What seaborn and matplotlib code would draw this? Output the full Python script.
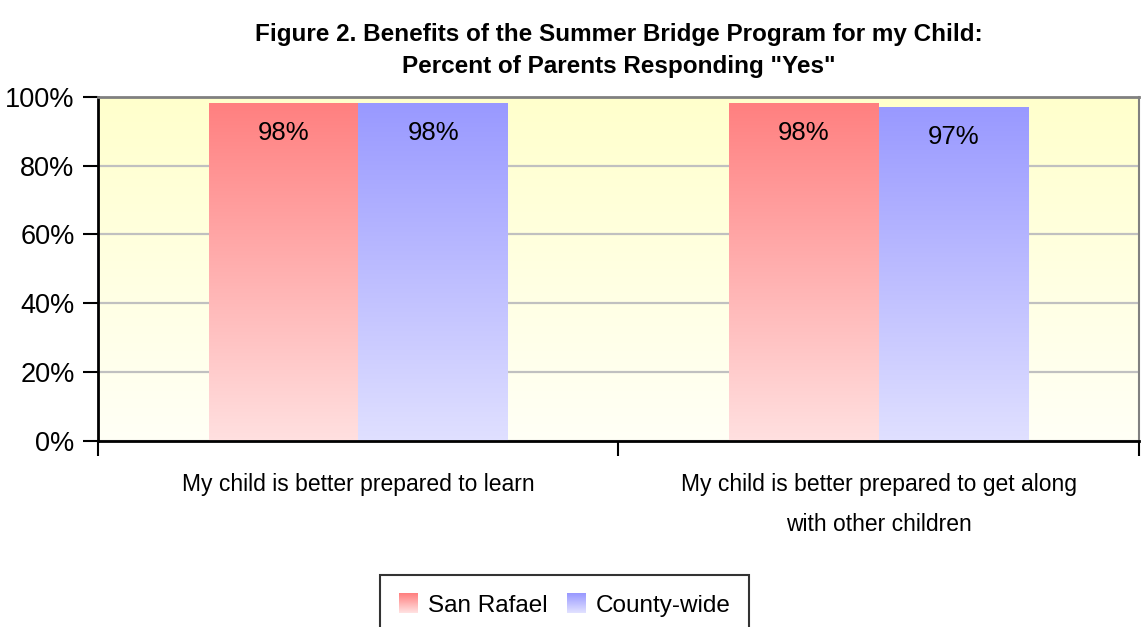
import numpy as np
import pandas as pd
import matplotlib.pyplot as plt
import seaborn as sns
from matplotlib.colors import LinearSegmentedColormap, to_rgb
from matplotlib.patches import Rectangle
from matplotlib.legend_handler import HandlerBase


categories = ["My child is better prepared to learn",
              "My child is better prepared to get along\nwith other children"]
groups = ["San Rafael", "County-wide"]
san_rafael = [98, 98]
county_wide = [98, 97]
yticks = [0, 20, 40, 60, 80, 100]

top_colors = {"San Rafael": "#FF8080", "County-wide": "#9999FF"}
bottom_colors = {"San Rafael": "#FFE0E0", "County-wide": "#E0E0FF"}

df = pd.DataFrame({
    "category": categories * 2,
    "group": [groups[0]] * 2 + [groups[1]] * 2,
    "value": san_rafael + county_wide,
})

sns.set_style("white")
plt.rcParams['font.family'] = ['Liberation Sans', 'DejaVu Sans']
plt.rcParams['text.color'] = 'black'
plt.rcParams['xtick.color'] = 'black'
plt.rcParams['ytick.color'] = 'black'
plt.rcParams['axes.labelcolor'] = 'black'

fig = plt.figure(figsize=(11.41, 6.27), dpi=100)
ax = fig.add_axes([0.086, 0.297, 0.912, 0.5485])

sns.barplot(data=df, x="category", y="value", hue="group", hue_order=groups,
            palette=top_colors, width=0.575, gap=0, saturation=1,
            legend=False, ax=ax)

# gradient fill for bars
grad = np.linspace(0, 1, 256).reshape(-1, 1)
for container, g in zip(ax.containers, groups):
    cmap = LinearSegmentedColormap.from_list(g, [bottom_colors[g], top_colors[g]])
    for bar in container:
        x0, y0 = bar.get_x(), bar.get_y()
        w, h = bar.get_width(), bar.get_height()
        ax.imshow(grad, extent=[x0, x0 + w, y0, y0 + h], origin="lower",
                  aspect="auto", cmap=cmap, zorder=2)
        bar.set_facecolor("none")
        bar.set_edgecolor("none")
    ax.bar_label(container, labels=[f"{v:.0f}%" for v in container.datavalues],
                 padding=-30, fontsize=18.5, color="black", zorder=4)

# yellow background gradient
bg = LinearSegmentedColormap.from_list("bg", ["#FFFFF6", "#FFFFCC"])
ax.imshow(grad, extent=[0, 1, 0, 1], origin="lower", aspect="auto", cmap=bg,
          transform=ax.transAxes, zorder=-1)

ax.set_xlim(-0.5, 1.5)
ax.set_ylim(0, 100)
ax.set_yticks(yticks)
ax.set_yticklabels([f"{v}%" for v in yticks])
ax.yaxis.grid(True, color="#C0C0C0", lw=1.6)
ax.set_axisbelow(True)

ax.set_xticks([-0.5, 0.5, 1.5])
ax.set_xticklabels([])
ax.set_xticks([0, 1], minor=True)
ax.set_xticklabels(categories, minor=True, linespacing=1.95)
ax.tick_params(axis="x", which="major", length=11, width=1.5, direction="out",
               color="black", bottom=True)
ax.tick_params(axis="x", which="minor", length=0, pad=23, labelsize=16.5)
ax.tick_params(axis="y", length=11, width=1.5, direction="out", color="black",
               left=True, pad=6, labelsize=19.5)
ax.set_xlabel("")
ax.set_ylabel("")

ax.spines["left"].set_color("black")
ax.spines["left"].set_linewidth(2)
ax.spines["bottom"].set_color("black")
ax.spines["bottom"].set_linewidth(2)
ax.spines["top"].set_color("#808080")
ax.spines["top"].set_linewidth(2)
ax.spines["right"].set_color("#808080")
ax.spines["right"].set_linewidth(1.5)

ax.set_title('Figure 2. Benefits of the Summer Bridge Program for my Child:\n'
             'Percent of Parents Responding "Yes"',
             fontsize=17.5, fontweight="bold", pad=17, linespacing=1.5,
             color="black")


class GradientHandler(HandlerBase):
    def __init__(self, top, bottom):
        super().__init__()
        self.top = np.array(to_rgb(top))
        self.bottom = np.array(to_rgb(bottom))

    def create_artists(self, legend, orig_handle, xdescent, ydescent,
                       width, height, fontsize, trans):
        n = 20
        artists = []
        for i in range(n):
            frac = i / (n - 1)
            color = self.bottom * (1 - frac) + self.top * frac
            r = Rectangle((-xdescent, -ydescent + i * height / n), width,
                          height / n + 0.3, facecolor=color, edgecolor="none",
                          transform=trans)
            artists.append(r)
        return artists


handles = [Rectangle((0, 0), 1, 1) for g in groups]
handler_map = {h: GradientHandler(top_colors[g], bottom_colors[g])
               for h, g in zip(handles, groups)}
leg = fig.legend(handles, groups, handler_map=handler_map, loc="upper center",
                 bbox_to_anchor=(0.495, 0.083), ncol=2, fontsize=17.5,
                 frameon=True, fancybox=False, edgecolor="black",
                 handlelength=0.8, handleheight=0.9, handletextpad=0.4,
                 columnspacing=0.8, borderpad=0.75, borderaxespad=0)
leg.get_frame().set_linewidth(1.5)

plt.savefig("out.png", dpi=100)
plt.close()
